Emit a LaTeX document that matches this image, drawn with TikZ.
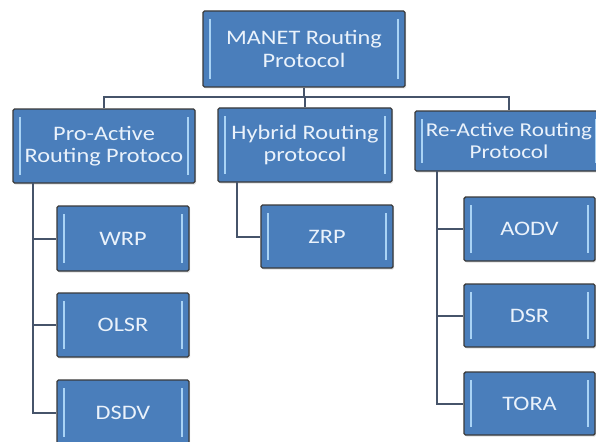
\documentclass[tikz,border=0pt]{standalone}
\usepackage{fontspec}
\setmainfont{Carlito}[FakeStretch=1.18]
\usetikzlibrary{shadows}
\definecolor{boxfill}{HTML}{4A7EBB}
\definecolor{boxedge}{HTML}{3A3A3A}
\definecolor{bartint}{HTML}{A9D3F5}
\definecolor{txt}{HTML}{EAF2FB}
\definecolor{wire}{HTML}{46546A}
\tikzset{
  box/.style={draw=boxedge, line width=1.4pt, fill=boxfill, rounded corners=1.5pt,
    text=txt, align=center, inner sep=0pt,
    font=\fontsize{20.6}{22.5}\selectfont,
    drop shadow={opacity=0.25, shadow xshift=1pt, shadow yshift=-1.5pt},
    path picture={
      \draw[bartint, line width=1.8pt]
        ([xshift=7pt,yshift=-8pt]path picture bounding box.north west) --
        ([xshift=7pt,yshift=8pt]path picture bounding box.south west);
      \draw[bartint, line width=1.8pt]
        ([xshift=-7pt,yshift=-8pt]path picture bounding box.north east) --
        ([xshift=-7pt,yshift=8pt]path picture bounding box.south east);
    }},
  conn/.style={draw=wire, line width=2pt}
}
\begin{document}
\begin{tikzpicture}[x=1pt,y=-1pt]
\useasboundingbox[fill=white] (0,0) rectangle (596,441);
% level 0
\node[box, minimum width=202pt, minimum height=76pt] (top) at (304,49) {MANET Routing\\Protocol};
% level 1
\node[box, minimum width=182pt, minimum height=74pt] (pro) at (104,146) {Pro-Active\\Routing Protoco};
\node[box, minimum width=174pt, minimum height=74pt] (hyb) at (305,145) {Hybrid Routing\\protocol};
\node[box, minimum width=188pt, minimum height=60pt, font=\fontsize{19.6}{22.5}\selectfont] (re) at (509,141) {Re-Active Routing\\Protocol};
% level 2 left
\node[box, minimum width=132pt, minimum height=65pt] (wrp) at (123,238.5) {WRP};
\node[box, minimum width=132pt, minimum height=64pt] (olsr) at (123,325) {OLSR};
\node[box, minimum width=132pt, minimum height=65pt] (dsdv) at (123,412.5) {DSDV};
% level 2 middle
\node[box, minimum width=132pt, minimum height=63pt] (zrp) at (327,236.5) {ZRP};
% level 2 right
\node[box, minimum width=131pt, minimum height=64pt] (aodv) at (529.5,229) {AODV};
\node[box, minimum width=131pt, minimum height=63pt] (dsr) at (529.5,315.5) {DSR};
\node[box, minimum width=131pt, minimum height=63pt] (tora) at (529.5,403.5) {TORA};
% connectors
\coordinate (bus) at (0,97);
\draw[conn] (top.south) -- (top.south |- bus);
\draw[conn] (pro.north) -- (pro.north |- bus) -- (re.north |- bus) -- (re.north);
\draw[conn] (hyb.north) -- (hyb.north |- bus);
\coordinate (pt) at (33,183);
\draw[conn] (pt) |- (wrp.west);
\draw[conn] (pt) |- (olsr.west);
\draw[conn] (pt) |- (dsdv.west);
\coordinate (ht) at (237,182);
\draw[conn] (ht) |- (zrp.west);
\coordinate (rt) at (437,171);
\draw[conn] (rt) |- (aodv.west);
\draw[conn] (rt) |- (dsr.west);
\draw[conn] (rt) |- (tora.west);
\end{tikzpicture}
\end{document}
